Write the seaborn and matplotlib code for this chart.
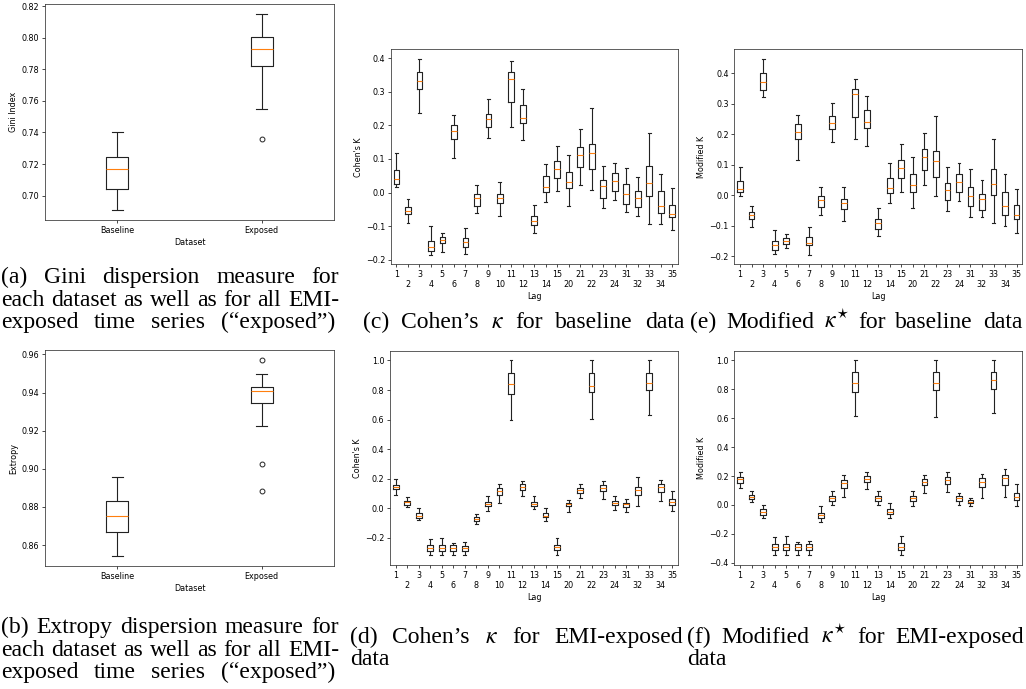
import numpy as np
import pandas as pd
import matplotlib
matplotlib.use("Agg")
import matplotlib.pyplot as plt
import seaborn as sns

# ---- data (lower whisker, q1, median, q3, upper whisker) ----
datasets = ["Baseline", "Exposed"]

gini_lo = [0.6907, 0.7552]
gini_q1 = [0.7044, 0.7822]
gini_med = [0.7169, 0.7929]
gini_q3 = [0.7245, 0.8004]
gini_hi = [0.7406, 0.8153]
gini_fliers = [[], [0.7360]]

extr_lo = [0.8542, 0.9225]
extr_q1 = [0.8667, 0.9348]
extr_med = [0.8754, 0.9407]
extr_q3 = [0.8833, 0.9432]
extr_hi = [0.8957, 0.9498]
extr_fliers = [[], [0.8885, 0.9024, 0.9572]]

lags = ["1", "2", "3", "4", "5", "6", "7", "8", "9", "10", "11", "12", "13",
        "14", "15", "20", "21", "22", "23", "24", "31", "32", "33", "34", "35"]

# (c) Cohen's kappa, baseline
cb_lo = [0.018, -0.089, 0.236, -0.184, -0.176, 0.102, -0.182, -0.062, 0.162, -0.070, 0.195, 0.157, -0.121,
         -0.029, 0.004, -0.041, 0.022, 0.008, -0.046, -0.022, -0.059, -0.068, -0.094, -0.093, -0.111]
cb_q1 = [0.026, -0.063, 0.309, -0.173, -0.151, 0.159, -0.161, -0.039, 0.195, -0.031, 0.269, 0.206, -0.097,
         0.001, 0.042, 0.014, 0.077, 0.070, -0.017, 0.006, -0.033, -0.044, -0.009, -0.062, -0.073]
cb_med = [0.040, -0.054, 0.332, -0.161, -0.141, 0.183, -0.148, -0.016, 0.220, -0.017, 0.338, 0.223, -0.084,
          0.018, 0.071, 0.033, 0.111, 0.117, 0.019, 0.036, -0.005, -0.015, 0.029, -0.039, -0.064]
cb_q3 = [0.066, -0.042, 0.358, -0.143, -0.131, 0.200, -0.134, -0.005, 0.235, -0.003, 0.358, 0.260, -0.070,
         0.048, 0.093, 0.062, 0.137, 0.145, 0.039, 0.059, 0.025, 0.004, 0.078, 0.005, -0.036]
cb_hi = [0.117, -0.018, 0.397, -0.100, -0.121, 0.231, -0.104, 0.023, 0.278, 0.031, 0.392, 0.309, -0.036,
         0.084, 0.140, 0.112, 0.189, 0.253, 0.078, 0.088, 0.074, 0.045, 0.177, 0.055, 0.013]

# (e) modified kappa, baseline
mb_lo = [-0.003, -0.104, 0.322, -0.194, -0.173, 0.114, -0.195, -0.066, 0.176, -0.085, 0.183, 0.163, -0.135,
         -0.026, 0.011, -0.043, 0.034, -0.003, -0.053, -0.018, -0.071, -0.071, -0.092, -0.101, -0.123]
mb_q1 = [0.010, -0.079, 0.346, -0.181, -0.159, 0.183, -0.165, -0.039, 0.217, -0.047, 0.256, 0.220, -0.110,
         0.007, 0.055, 0.012, 0.082, 0.061, -0.016, 0.011, -0.037, -0.049, 0.000, -0.066, -0.077]
mb_med = [0.020, -0.065, 0.371, -0.165, -0.150, 0.208, -0.156, -0.016, 0.237, -0.026, 0.331, 0.241, -0.092,
          0.025, 0.088, 0.032, 0.125, 0.111, 0.018, 0.043, -0.004, -0.014, 0.036, -0.037, -0.064]
mb_q3 = [0.048, -0.054, 0.400, -0.151, -0.140, 0.233, -0.139, -0.003, 0.260, -0.013, 0.350, 0.279, -0.077,
         0.058, 0.117, 0.068, 0.151, 0.146, 0.041, 0.071, 0.028, 0.005, 0.085, 0.010, -0.033]
mb_hi = [0.092, -0.034, 0.447, -0.115, -0.129, 0.264, -0.103, 0.028, 0.304, 0.028, 0.380, 0.326, -0.041,
         0.105, 0.169, 0.124, 0.205, 0.260, 0.091, 0.107, 0.087, 0.050, 0.186, 0.069, 0.020]

# (d) Cohen's kappa, EMI-exposed
ce_lo = [0.092, 0.007, -0.079, -0.318, -0.318, -0.318, -0.318, -0.106, -0.016, 0.036, 0.597, 0.083, -0.005,
         -0.088, -0.318, -0.023, 0.068, 0.604, 0.061, -0.009, -0.025, 0.018, 0.633, 0.047, -0.018]
ce_q1 = [0.128, 0.025, -0.068, -0.286, -0.286, -0.286, -0.288, -0.088, 0.018, 0.092, 0.775, 0.124, 0.018,
         -0.061, -0.282, 0.014, 0.104, 0.786, 0.115, 0.020, 0.011, 0.092, 0.797, 0.110, 0.025]
ce_med = [0.146, 0.041, -0.052, -0.268, -0.268, -0.268, -0.272, -0.074, 0.032, 0.119, 0.840, 0.146, 0.032,
          -0.050, -0.264, 0.027, 0.122, 0.829, 0.137, 0.036, 0.027, 0.126, 0.849, 0.146, 0.043]
ce_q3 = [0.158, 0.050, -0.032, -0.248, -0.248, -0.248, -0.255, -0.061, 0.043, 0.137, 0.917, 0.162, 0.045,
         -0.034, -0.248, 0.038, 0.135, 0.912, 0.155, 0.047, 0.038, 0.146, 0.914, 0.164, 0.061]
ce_hi = [0.196, 0.074, 0.005, -0.207, -0.200, -0.236, -0.227, -0.041, 0.086, 0.162, 1.0, 0.187, 0.086,
         0.005, -0.198, 0.054, 0.162, 1.0, 0.182, 0.081, 0.061, 0.212, 1.0, 0.191, 0.115]

# (f) modified kappa, EMI-exposed
me_lo = [0.120, 0.018, -0.088, -0.348, -0.348, -0.348, -0.348, -0.115, 0.000, 0.053, 0.613, 0.111, 0.000,
         -0.090, -0.348, -0.007, 0.083, 0.606, 0.090, 0.002, -0.007, 0.051, 0.634, 0.053, -0.005]
me_q1 = [0.154, 0.044, -0.071, -0.313, -0.313, -0.313, -0.311, -0.092, 0.030, 0.120, 0.781, 0.157, 0.030,
         -0.065, -0.309, 0.028, 0.136, 0.793, 0.147, 0.030, 0.012, 0.122, 0.802, 0.138, 0.037]
me_med = [0.177, 0.053, -0.051, -0.290, -0.290, -0.290, -0.290, -0.071, 0.048, 0.152, 0.846, 0.177, 0.046,
          -0.048, -0.288, 0.048, 0.157, 0.846, 0.173, 0.048, 0.023, 0.161, 0.862, 0.187, 0.055]
me_q3 = [0.196, 0.067, -0.028, -0.267, -0.267, -0.267, -0.272, -0.053, 0.065, 0.175, 0.922, 0.200, 0.062,
         -0.030, -0.265, 0.060, 0.180, 0.922, 0.194, 0.065, 0.032, 0.184, 0.922, 0.210, 0.085]
me_hi = [0.226, 0.094, 0.002, -0.219, -0.214, -0.256, -0.247, -0.005, 0.094, 0.205, 1.0, 0.228, 0.094,
         0.016, -0.214, 0.099, 0.207, 1.0, 0.230, 0.081, 0.046, 0.214, 1.0, 0.247, 0.143]

W, H = 1026, 689

plt.rcParams.update({
    'font.size': 5.8,
    'axes.linewidth': 0.55,
    'axes.edgecolor': '#333333',
    'xtick.major.size': 2.0, 'ytick.major.size': 2.0,
    'xtick.major.width': 0.5, 'ytick.major.width': 0.5,
    'xtick.major.pad': 2.0, 'ytick.major.pad': 2.0,
    'axes.labelpad': 2.3,
    'mathtext.fontset': 'stix',
})


def box_sample(lo, q1, med, q3, hi, fliers=()):
    # smallest sample whose quartiles are exactly q1/med/q3 and whose whisker ends are lo/hi
    low = sorted(f for f in fliers if f < q1)
    high = sorted(f for f in fliers if f > q3)
    k = max(len(low), len(high)) + 1
    below = low + [lo] + [q1] * (k - 1 - len(low))
    above = [q3] * (k - 1 - len(high)) + [hi] + high
    return below + [q1] + [med] * k + [q3] * k + above


def draw_box(rect, groups, lo, q1, med, q3, hi, fliers, width, whis, xlabel, ylabel):
    l, t, r, b = rect
    ax = fig.add_axes([l / W, 1 - b / H, (r - l) / W, (b - t) / H])
    rows = []
    for i, g in enumerate(groups):
        fl = fliers[i] if fliers else ()
        for v in box_sample(lo[i], q1[i], med[i], q3[i], hi[i], fl):
            rows.append((g, v))
    df = pd.DataFrame(rows, columns=[xlabel, ylabel])
    sns.boxplot(data=df, x=xlabel, y=ylabel, order=groups, ax=ax, width=width, whis=whis,
                fill=False, color='#222222', linewidth=0.8, fliersize=3.5,
                medianprops={'color': '#ff7f0e', 'linewidth': 0.8},
                flierprops={'marker': 'o', 'markerfacecolor': 'none', 'markeredgecolor': '#222222',
                            'markeredgewidth': 0.7})
    ax.set_xlabel(xlabel)
    ax.set_ylabel(ylabel)
    return ax


def lag_axis(ax):
    ax.set_xticks(range(len(lags)))
    ax.set_xticklabels([lab if i % 2 == 0 else "\n" + lab for i, lab in enumerate(lags)])


fig = plt.figure(figsize=(W / 100, H / 100), dpi=100)

draw_box((45, 4, 334, 220), datasets, gini_lo, gini_q1, gini_med, gini_q3, gini_hi, gini_fliers,
         0.15, 1.5, "Dataset", "Gini Index")
draw_box((45, 350, 334, 566), datasets, extr_lo, extr_q1, extr_med, extr_q3, extr_hi, extr_fliers,
         0.15, 1.5, "Dataset", "Extropy")

ax_c = draw_box((390.7, 49.3, 678, 264.3), lags, cb_lo, cb_q1, cb_med, cb_q3, cb_hi, None,
                0.5, (0, 100), "Lag", "Cohen's K")
lag_axis(ax_c)
ax_e = draw_box((734.3, 49.3, 1022.3, 264.3), lags, mb_lo, mb_q1, mb_med, mb_q3, mb_hi, None,
                0.5, (0, 100), "Lag", "Modified K")
lag_axis(ax_e)
ax_d = draw_box((390, 350.7, 678, 565), lags, ce_lo, ce_q1, ce_med, ce_q3, ce_hi, None,
                0.5, (0, 100), "Lag", "Cohen's K")
lag_axis(ax_d)
ax_f = draw_box((734.3, 350.7, 1022.3, 565), lags, me_lo, me_q1, me_med, me_q3, me_hi, None,
                0.5, (0, 100), "Lag", "Modified K")
lag_axis(ax_f)

# ---- sub-captions (serif, justified like the LaTeX layout) ----
cap_font = dict(family=['Liberation Serif', 'DejaVu Serif'], fontsize=17)
renderer = fig.canvas.get_renderer()


def caption_line(text, x0, y, x1=None):
    words = text.split(" ")
    arts = [fig.text(0, 0, w, va='baseline', ha='left', **cap_font) for w in words]
    widths = [a.get_window_extent(renderer).width for a in arts]
    gap = arts[0].get_fontsize() * 100 / 72 * 0.25
    if x1 is not None and len(words) > 1:
        gap = max(gap, (x1 - x0 - sum(widths)) / (len(words) - 1))
    x = x0
    for a, w in zip(arts, widths):
        a.set_position((x / W, 1 - y / H))
        x += w + gap


caption_line("(a) Gini dispersion measure for", 1, 283, 339)
caption_line("each dataset as well as for all EMI-", 1, 305.5, 339)
caption_line("exposed time series (\u201cexposed\u201d)", 1, 328, 335)

caption_line("(c) Cohen\u2019s $\\kappa$ for baseline data", 363, 328, 684)
caption_line("(e) Modified $\\kappa^{\\star}$ for baseline data", 690, 328, 1022)

caption_line("(b) Extropy dispersion measure for", 1, 633, 339)
caption_line("each dataset as well as for all EMI-", 1, 655.5, 339)
caption_line("exposed time series (\u201cexposed\u201d)", 1, 678, 335)

caption_line("(d) Cohen\u2019s $\\kappa$ for EMI-exposed", 350, 643, 683)
caption_line("data", 350, 665)
caption_line("(f) Modified $\\kappa^{\\star}$ for EMI-exposed", 687, 643, 1024)
caption_line("data", 687, 665)

fig.savefig("out.png", dpi=100)
